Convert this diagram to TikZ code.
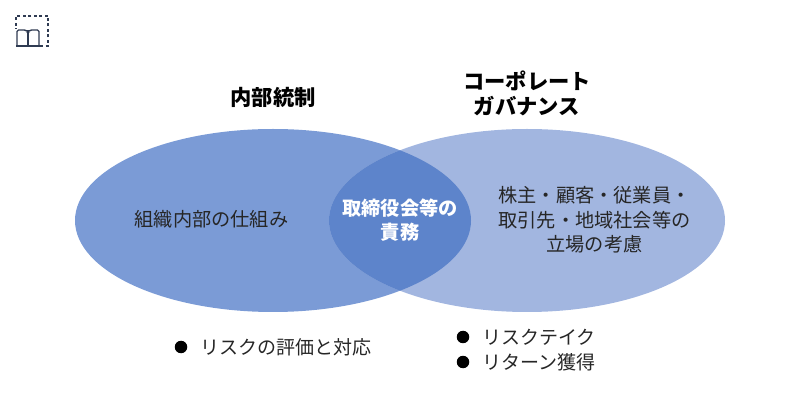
\documentclass[tikz,border=0pt]{standalone}
\usepackage{fontspec}
\setmainfont{Noto Sans CJK JP}
\definecolor{ovalleft}{HTML}{7B9BD6}
\definecolor{ovalright}{HTML}{A2B6E0}
\definecolor{ovalboth}{HTML}{5D84CB}
\definecolor{iconline}{HTML}{2F3B52}
\tikzset{
  plain/.style={inner sep=0pt,align=center,font=\fontsize{19.2}{24.5}\selectfont,text=black!85},
  heading/.style={inner sep=0pt,align=center,font=\fontsize{21.3}{25}\selectfont\bfseries,text=black},
  duty/.style={inner sep=0pt,align=center,font=\fontsize{19.2}{24}\selectfont\bfseries,text=white},
  dot/.style={circle,fill=black,inner sep=0pt,minimum size=12.5pt},
  point/.style={inner sep=0pt,anchor=west,font=\fontsize{19}{24}\selectfont,text=black!85}
}
\begin{document}
\begin{tikzpicture}[x=1pt,y=-1pt]
\useasboundingbox (0,0) rectangle (800,419);
% ovals
\fill [ovalleft] (273,220.5) ellipse [x radius=198,y radius=91.5];
\fill [ovalright] (527,220.5) ellipse [x radius=198,y radius=91.5];
\begin{scope}
\clip (273,220.5) ellipse [x radius=198,y radius=91.5];
\fill [ovalboth] (527,220.5) ellipse [x radius=198,y radius=91.5];
\end{scope}
% icon
\draw [iconline,line width=1.4pt,dash pattern=on 3pt off 2.5pt] (40,46) -- (48,46) -- (48,16) -- (16,16) -- (16,29);
\draw [iconline,line width=1.4pt,rounded corners=1.5pt] (17,46) -- (17,30) -- (26,30) -- (28,32) -- (30,30) -- (39,30) -- (39,46);
\draw [iconline,line width=1.4pt] (28,32) -- (28,45);
\draw [iconline,line width=1.8pt] (16,46) -- (40,46);
% headings
\node [heading] (naibu) at (273,97) {内部統制};
\node [heading] (corp) at (527,93.5) {コーポレート\\ガバナンス};
% oval texts
\node [plain] (shikumi) at (211.5,219) {組織内部の仕組み};
\node [duty] (sekimu) at (400,220) {取締役会等の\\責務};
\node [plain] (tachiba) at (594.5,220) {株主・顧客・従業員・\\取引先・地域社会等の\\立場の考慮};
% bullets
\node [dot] (d1) at (181,347) {};
\node [point] (p1) at (200,347) {リスクの評価と対応};
\node [dot] (d2) at (463,337) {};
\node [point] (p2) at (482,337) {リスクテイク};
\node [dot] (d3) at (463,362) {};
\node [point] (p3) at (482,362) {リターン獲得};
\end{tikzpicture}
\end{document}
